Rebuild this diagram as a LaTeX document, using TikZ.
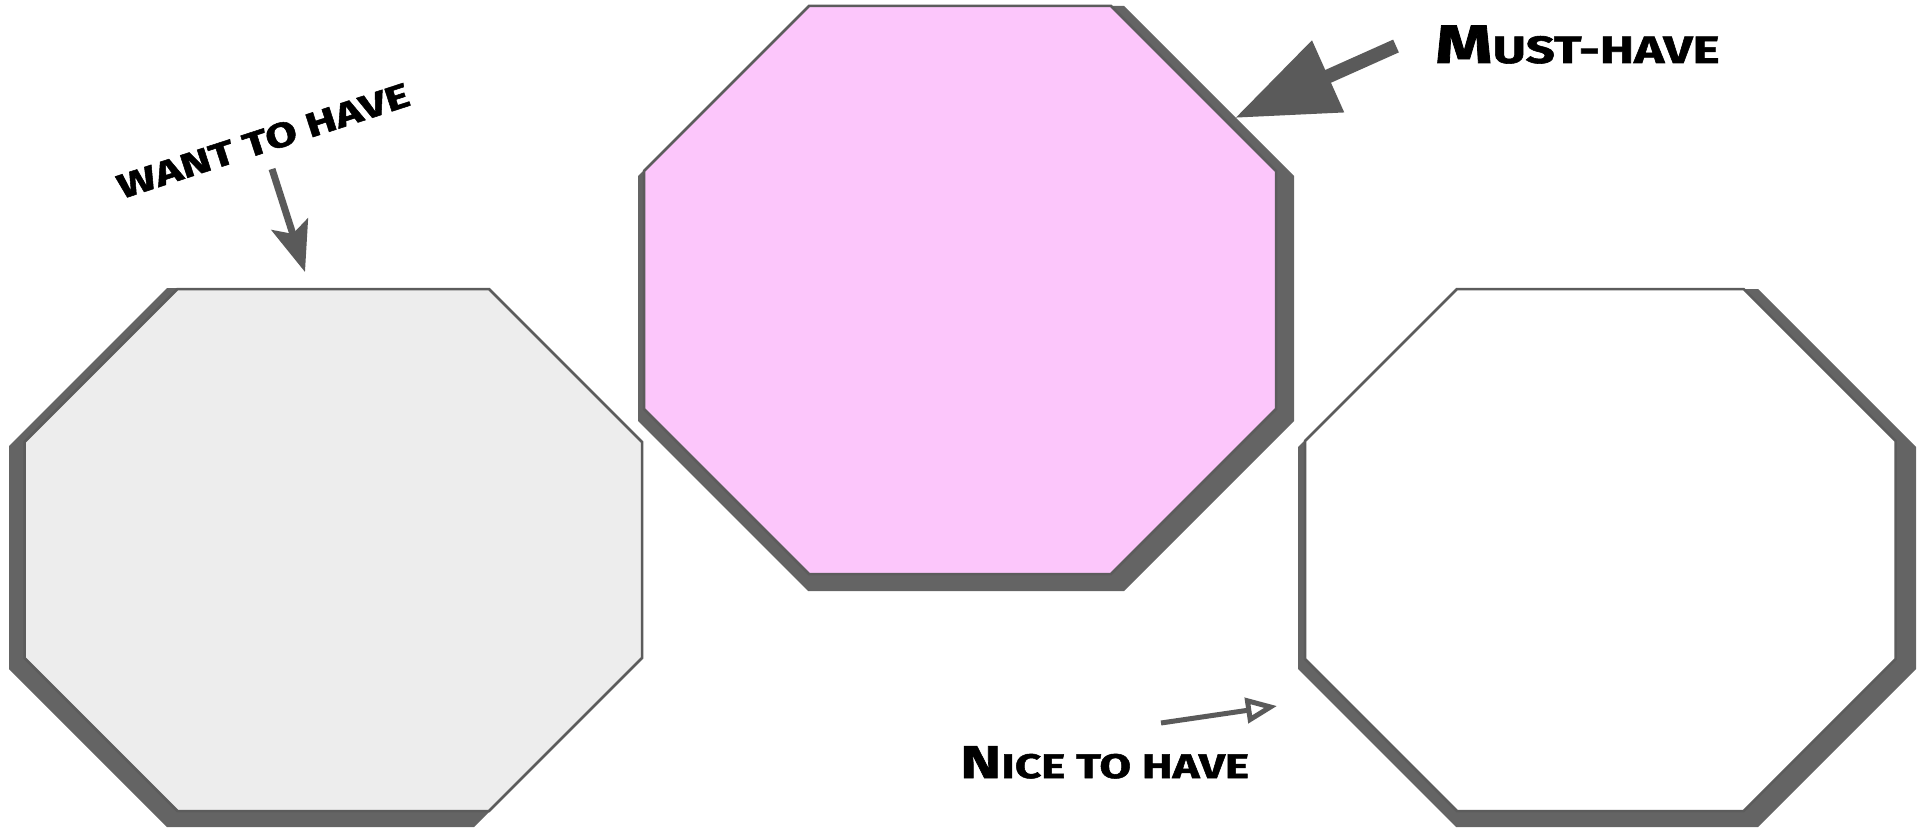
\documentclass[tikz,border=0pt]{standalone}
\usepackage{fontspec}
\newfontfamily\markerfont{Fira Sans}[FakeStretch=1.35, BoldFeatures={FakeBold=1.5}]
\usepackage{xcolor}
\definecolor{shadowgray}{RGB}{100,100,100}
\definecolor{arrowgray}{RGB}{90,90,90}
\definecolor{edgegray}{RGB}{92,92,92}
\definecolor{wantfill}{RGB}{237,237,237}
\definecolor{mustfill}{RGB}{252,198,251}
\usetikzlibrary{arrows.meta, positioning}
\newcommand{\octagon}[5]{(#1+#5,#2) -- (#3-#5,#2) -- (#3,#2+#5) -- (#3,#4-#5) -- (#3-#5,#4) -- (#1+#5,#4) -- (#1,#4-#5) -- (#1,#2+#5) -- cycle}
\newcommand{\capword}[4]{{\fontsize{#1}{#1}\selectfont #3}{\fontsize{#2}{#2}\selectfont #4}}

\begin{document}
\begin{tikzpicture}[
	x=1pt, y=-1pt,
	shadow/.style={fill=shadowgray},
	octo/.style={draw=edgegray, line width=2.5pt, line join=miter},
	tag/.style={font=\markerfont\bfseries, inner sep=0pt, text=black},
	fatarrow/.style={draw=arrowgray, line width=14pt, -{Triangle[length=102pt, width=75pt]}},
	midarrow/.style={draw=arrowgray, line width=7pt, -{Stealth[length=50pt, width=38pt, inset=10pt]}},
	openarrow/.style={draw=arrowgray, line width=5pt, -{Triangle[open, length=31pt, width=25pt]}}
	]
	\useasboundingbox (0,0) rectangle (1920,829);

	\fill[shadow] \octagon{9}{288}{632}{827}{158};
	\filldraw[octo, fill=wantfill] \octagon{24.5}{289}{642}{811}{153};
	\fill[shadow] \octagon{638}{6}{1294}{591}{170};
	\filldraw[octo, fill=mustfill] \octagon{644}{6}{1276}{574}{165};
	\fill[shadow] \octagon{1298}{289}{1916}{827}{158};
	\filldraw[octo, fill=white] \octagon{1305}{289}{1895.5}{811}{152};

	\node[tag, anchor=base, rotate=18] (want) at (267,152) {\capword{34}{34}{W}{ANT TO HAVE}};
	\node[tag, anchor=base west] (must) at (1435,63) {\capword{54}{38}{M}{UST-HAVE}};
	\node[tag, anchor=base west] (nice) at (960,778) {\capword{46}{34}{N}{ICE TO HAVE}};

	\coordinate (wantTail) at (272,169);
	\coordinate (wantTip) at (305,272);
	\coordinate (mustTail) at (1396,46);
	\coordinate (mustTip) at (1235,118);
	\coordinate (niceTail) at (1161,723);
	\coordinate (niceTip) at (1277,706);

	\draw[midarrow] (wantTail) -- (wantTip);
	\draw[fatarrow] (mustTail) -- (mustTip);
	\draw[openarrow] (niceTail) -- (niceTip);
\end{tikzpicture}
\end{document}
